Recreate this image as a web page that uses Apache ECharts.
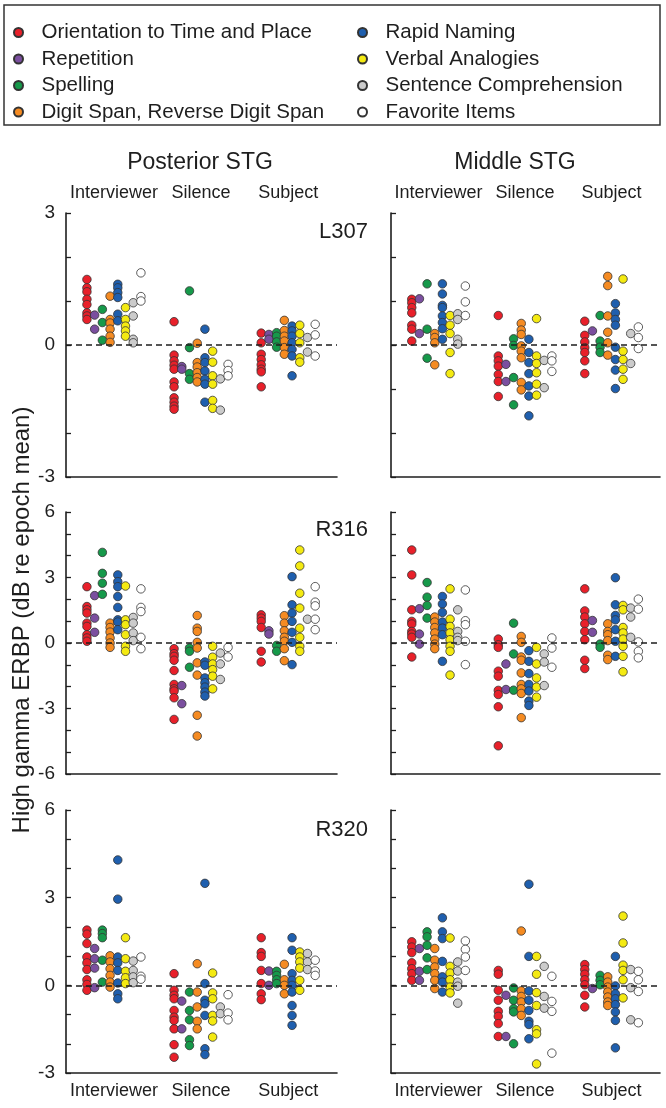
<!DOCTYPE html>
<html>
<head>
<meta charset="utf-8">
<script src="https://cdn.jsdelivr.net/npm/echarts@6/dist/echarts.min.js"></script>
<style>
html,body{margin:0;padding:0;background:#fff;}
#chart{width:666px;height:1108px;}
</style>
</head>
<body>
<div id="chart"></div>
<script>
// ---------- data ----------
const categories = ['Orientation to Time and Place', 'Repetition', 'Spelling', 'Digit Span, Reverse Digit Span',
                    'Rapid Naming', 'Verbal Analogies', 'Sentence Comprehension', 'Favorite Items'];
const categoryColors = ['#e8202a', '#7b4f9f', '#16994a', '#f58b22', '#1f5fae', '#f4ea12', '#cbcbcb', '#ffffff'];
const conditions = ['Interviewer', 'Silence', 'Subject'];
const regionTitles = ['Posterior STG', 'Middle STG'];
const subjectLabels = ['L307', 'R316', 'R320'];
const yRanges = [[-3, 3], [-6, 6], [-3, 6]];
const yLabelStep = 3;
const yAxisTitle = 'High gamma ERBP (dB re epoch mean)';

// each array: one sub-array per category (order of `categories`)
const L307_posterior_interviewer = [[1.49,1.30,1.21,1.04,0.92,0.73,0.66,0.58],[0.68,0.36],[0.81,0.51,0.11],[1.11,0.58,0.50,0.36,0.20,0.06],[1.38,1.30,1.19,1.08,0.70,0.55],[0.85,0.58,0.43,0.32,0.20],[0.96,0.66,0.13,0.05],[1.64,1.10,1.00]];
const L307_posterior_silence = [[0.53,-0.23,-0.36,-0.46,-0.55,-0.84,-0.95,-1.20,-1.30,-1.39,-1.46],[-0.49,-0.55],[1.23,-0.06,-0.65,-0.78],[0.04,-0.40,-0.50,-0.63,-0.74,-0.84],[0.36,-0.29,-0.40,-0.59,-0.78,-0.89,-1.30],[-0.14,-0.39,-0.70,-0.89,-1.26,-1.44],[-0.77,-1.48],[-0.44,-0.58,-0.70]];
const L307_posterior_subject = [[0.27,0.05,-0.21,-0.33,-0.45,-0.55,-0.61,-0.95],[0.24,0.13],[0.28,0.20,0.07,-0.05],[0.56,0.33,0.20,0.09,-0.06,-0.21],[0.43,0.32,0.20,0.05,-0.10,-0.25,-0.70],[0.45,0.26,0.05,-0.29,-0.39],[0.17,-0.16],[0.47,0.23,-0.25]];

const L307_middle_interviewer = [[1.04,0.96,0.85,0.73,0.45,0.36,0.09],[1.05,0.26],[1.39,0.36,-0.30],[0.26,0.17,0.05,-0.45],[1.39,1.16,0.90,0.85,0.66,0.51,0.37,0.13],[0.67,0.45,0.26,-0.17,-0.65],[0.71,0.58,0.13,0.02],[1.34,0.98,0.67]];
const L307_middle_silence = [[0.67,-0.25,-0.36,-0.48,-0.67,-0.83,-1.17],[-0.44,-0.83],[0.14,-0.01,-0.74,-1.36],[0.49,0.34,0.24,-0.02,-0.14,-0.29,-0.85,-1.02],[0.13,-0.17,-0.40,-0.65,-0.93,-1.16,-1.61],[0.60,-0.25,-0.42,-0.63,-0.89,-1.14],[-0.35,-0.97],[-0.25,-0.36,-0.60]];
const L307_middle_subject = [[0.54,0.22,0.07,-0.06,-0.17,-0.36,-0.65],[0.32],[0.67,0.09,-0.05,-0.17],[1.56,1.35,0.66,0.29,0.05,-0.23],[0.94,0.73,0.58,0.45,-0.05,-0.33,-0.57,-0.99],[1.50,-0.14,-0.33,-0.55,-0.78],[0.26,-0.42],[0.41,0.17,-0.08]];

const R316_posterior_interviewer = [[2.58,1.67,1.52,1.37,0.91,0.76,0.38,0.23,0.08],[2.17,1.14,0.49],[4.15,3.19,2.74,2.23],[0.91,0.71,0.50,0.23,0.00,-0.20],[3.12,2.81,2.58,2.13,1.63,1.06,0.96,0.61],[2.61,1.06,0.84,0.38,-0.15,-0.38],[1.17,0.91,0.46,0.11],[2.48,1.63,1.44,0.26,-0.26]];
const R316_posterior_silence = [[-0.26,-0.49,-0.61,-0.79,-1.26,-1.90,-2.10,-2.20,-2.51,-3.50],[-1.95,-2.78],[-0.23,-0.38,-1.11],[1.26,0.68,0.53,0.03,-0.23,-0.91,-1.47,-3.31,-4.26],[-0.87,-1.02,-1.60,-1.82,-2.02,-2.25,-2.43],[-0.15,-0.65,-0.96,-1.22,-1.52,-2.10],[-0.46,-0.96,-1.67],[-0.20,-0.64]];
const R316_posterior_subject = [[1.29,1.14,0.99,0.71,-0.38,-0.87],[0.56,0.41],[-0.11,-0.38],[1.25,0.91,0.56,0.26,0.08,-0.26,-0.81],[3.04,1.75,1.37,0.99,0.49,0.03,-0.99],[4.26,3.53,2.28,1.60,0.68,0.26,-0.15,-0.38],[1.09],[2.58,1.87,1.70,1.09,0.61]];

const R316_middle_interviewer = [[4.26,3.12,1.52,0.99,0.87,0.53,0.41,0.26,-0.64],[1.57,0.41,-0.05],[2.77,2.10,1.72,1.14],[1.19,0.96,0.71,0.46,0.18,-0.05,-0.26],[2.13,1.79,1.40,0.96,0.68,0.38,-0.84],[2.48,1.09,0.76,0.46,0.15,-0.15,-0.38,-1.47],[1.52,0.53,0.26,0.11],[2.43,1.02,0.84,0.08,-0.99]];
const R316_middle_silence = [[0.18,-0.08,-0.20,-1.29,-1.52,-2.17,-2.36,-2.92,-4.71],[-0.96,-2.13],[0.91,-0.50,-2.16],[0.30,0.03,-0.64,-0.79,-1.37,-1.90,-2.10,-2.31,-3.42],[-0.35,-0.84,-1.40,-1.90,-2.20,-2.66,-2.86],[-0.20,-0.96,-1.60,-2.02,-2.48],[-0.50,-0.87,-1.95],[0.23,-0.23,-1.11]];
const R316_middle_subject = [[2.48,1.47,1.19,0.88,0.53,0.15,-0.79,-1.17],[1.03,0.49],[-0.05,-0.20],[0.88,0.53,0.38,0.11,-0.56,-0.76],[2.99,1.75,1.26,1.06,0.61,0.08,-0.61],[1.72,1.52,0.71,0.46,0.18,-0.15,-0.61,-1.32],[1.60,1.19,0.26],[2.01,1.55,0.05,-0.38,-0.68]];

const R320_posterior_interviewer = [[1.89,1.75,1.43,0.97,0.77,0.54,0.19,0.03,-0.17],[1.26,0.91,0.59,-0.08],[1.89,1.77,1.63,0.86,0.11],[1.01,0.80,0.57,0.34,0.11,-0.06],[4.29,2.95,0.97,0.77,0.51,0.08,-0.29,-0.46],[1.63,0.91,0.48,0.26,0.06],[0.83,0.51,0.29,0.09],[0.97,0.31,0.21]];
const R320_posterior_silence = [[0.40,-0.17,-0.34,-0.46,-0.86,-1.09,-1.20,-1.49,-2.03,-2.46],[-0.54,-1.49],[-0.23,-0.86,-1.18,-1.86,-2.06],[0.74,-0.23,-0.74,-1.23,-1.49],[3.49,0.06,-0.51,-0.63,-1.03,-2.17,-2.37],[0.42,-0.26,-0.46,-1.03,-1.22,-1.77],[-0.74,-0.97],[-0.32,-0.95,-1.18]];
const R320_posterior_subject = [[1.63,1.12,0.99,0.51,0.06,-0.29,-0.49],[0.49,0.00],[0.48,0.34,0.19,0.06],[0.72,0.19,0.00,-0.29],[1.63,1.20,0.40,0.17,0.00,-0.23,-0.69,-1.03,-1.37],[1.14,0.97,0.80,0.59,0.17,-0.17],[1.09,0.80,0.54],[0.86,0.49,0.34]];

const R320_middle_interviewer = [[1.49,1.31,1.12,0.77,0.57,0.40,0.17],[1.26,0.48,0.17],[1.83,1.66,1.37,0.94,0.54],[1.26,0.86,0.63,0.40,0.17,-0.11],[2.31,1.83,1.60,0.82,0.29,0.11,-0.23],[1.62,0.65,0.42,0.19,-0.06,-0.26],[0.80,0.49,0.11,-0.03,-0.61],[1.52,1.23,0.97,0.51]];
const R320_middle_silence = [[0.51,0.38,-0.17,-0.51,-0.89,-1.06,-1.31,-1.75],[-0.34,-1.75],[-0.09,-0.51,-0.80,-0.91,-2.00],[1.86,-0.19,-0.38,-0.57,-0.80,-1.03],[3.46,0.99,-0.19,-0.51,-0.86,-1.23,-1.34,-1.83],[0.99,0.38,-0.25,-0.69,-1.52,-1.66,-2.69],[0.65,-0.38,-0.78],[0.31,-0.55,-0.89,-2.32]];
const R320_middle_subject = [[0.71,0.54,0.38,0.19,0.02,-0.34,-0.74],[-0.11],[0.34,0.17,0.02],[0.29,0.11,-0.06,-0.23,-0.40,-0.57,-0.69],[0.99,-0.02,-0.29,-0.46,-0.66,-0.91,-1.20,-2.14],[2.37,1.45,0.69,0.51,0.19,-0.43],[0.54,-0.08,-1.18],[0.48,0.19,-0.21,-1.28]];

// panel order: row (subject) x column (region)
const panels = [
  [L307_posterior_interviewer, L307_posterior_silence, L307_posterior_subject],
  [L307_middle_interviewer, L307_middle_silence, L307_middle_subject],
  [R316_posterior_interviewer, R316_posterior_silence, R316_posterior_subject],
  [R316_middle_interviewer, R316_middle_silence, R316_middle_subject],
  [R320_posterior_interviewer, R320_posterior_silence, R320_posterior_subject],
  [R320_middle_interviewer, R320_middle_silence, R320_middle_subject]
];

// ---------- layout ----------
const FONT = "'Liberation Sans', Arial, Helvetica, sans-serif";
const INK = '#1e1e1e';
const colLeft = [66, 391];
const colWidth = [271, 269];
const rowTop = [213, 512, 810];
const rowHeight = [264, 262, 263];
const X_MIN = 0.45, X_MAX = 3.56;
const CAT_STEP = 0.0885;

const chart = echarts.init(document.getElementById('chart'), null, {renderer: 'canvas'});

const grid = [], xAxis = [], yAxis = [], series = [];
for (let p = 0; p < 6; p++) {
  const row = Math.floor(p / 2), col = p % 2;
  grid.push({left: colLeft[col], top: rowTop[row], width: colWidth[col], height: rowHeight[row], containLabel: false});
  const xBottom = xAxis.length;
  xAxis.push({
    type: 'value', gridIndex: p, min: X_MIN, max: X_MAX, position: 'bottom',
    axisLine: {show: true, onZero: false, lineStyle: {color: INK, width: 1.6}},
    axisTick: {show: false}, splitLine: {show: false},
    axisLabel: {show: row === 2, customValues: [1, 2, 3], formatter: v => conditions[Math.round(v) - 1] || '',
                color: INK, fontSize: 18, fontFamily: FONT, margin: 9}
  });
  if (row === 0) {
    xAxis.push({
      type: 'value', gridIndex: p, min: X_MIN, max: X_MAX, position: 'top',
      axisLine: {show: false}, axisTick: {show: false}, splitLine: {show: false},
      axisLabel: {show: true, customValues: [1, 2, 3], formatter: v => conditions[Math.round(v) - 1] || '',
                  color: INK, fontSize: 18, fontFamily: FONT, margin: 11}
    });
  }
  yAxis.push({
    type: 'value', gridIndex: p, min: yRanges[row][0], max: yRanges[row][1], interval: 1,
    axisLine: {show: true, onZero: false, lineStyle: {color: INK, width: 1.6}},
    axisTick: {show: true, inside: true, length: 5, lineStyle: {color: INK, width: 1.3}},
    splitLine: {show: false},
    axisLabel: {show: col === 0, formatter: v => (v % yLabelStep === 0 ? String(v) : ''),
                color: INK, fontSize: 19, fontFamily: FONT, margin: 11}
  });
  // zero reference line
  series.push({
    type: 'scatter', xAxisIndex: xBottom, yAxisIndex: p, data: [], z: 1, silent: true,
    markLine: {silent: true, symbol: 'none', animation: false, label: {show: false},
               lineStyle: {type: [6, 4], color: INK, width: 1.5}, data: [{yAxis: 0}]}
  });
  const pd = panels[p];
  for (let k = 0; k < categories.length; k++) {
    const pts = [];
    for (let c = 0; c < conditions.length; c++) {
      for (const v of pd[c][k]) pts.push([c + 1 + (k - 3.5) * CAT_STEP, v]);
    }
    series.push({
      type: 'scatter', name: categories[k], xAxisIndex: xBottom, yAxisIndex: p, z: 3,
      symbol: 'circle', symbolSize: 8.5, data: pts,
      itemStyle: {color: categoryColors[k], borderColor: '#333', borderWidth: 0.8, opacity: 1}
    });
  }
}

const legendCommon = {
  orient: 'vertical', icon: 'circle', itemWidth: 36, itemHeight: 9, itemGap: 5.5,
  textStyle: {color: INK, fontSize: 20.5, fontFamily: FONT, lineHeight: 20},
  selectedMode: false
};

const graphic = [
  {type: 'rect', shape: {x: 4, y: 5, width: 656, height: 120}, style: {fill: 'none', stroke: '#333', lineWidth: 1.5}},
  {type: 'text', x: 200, y: 163, style: {text: regionTitles[0], fill: INK, font: '23px ' + FONT, textAlign: 'center', textVerticalAlign: 'middle'}},
  {type: 'text', x: 515, y: 163, style: {text: regionTitles[1], fill: INK, font: '23px ' + FONT, textAlign: 'center', textVerticalAlign: 'middle'}},
  {type: 'text', x: 22, y: 620, rotation: Math.PI / 2, style: {text: yAxisTitle, fill: INK, font: '24px ' + FONT, textAlign: 'center', textVerticalAlign: 'middle'}}
];
const labelY = [232, 530, 830];
for (let r = 0; r < 3; r++) {
  graphic.push({type: 'text', x: 368, y: labelY[r], style: {text: subjectLabels[r], fill: INK, font: '22px ' + FONT, textAlign: 'right', textVerticalAlign: 'middle'}});
}

chart.setOption({
  animation: false,
  backgroundColor: '#ffffff',
  grid, xAxis, yAxis, series, graphic,
  legend: [
    Object.assign({}, legendCommon, {data: categories.slice(0, 4), left: 8, top: 17}),
    Object.assign({}, legendCommon, {data: categories.slice(4), left: 352, top: 17})
  ]
});
</script>
</body>
</html>
